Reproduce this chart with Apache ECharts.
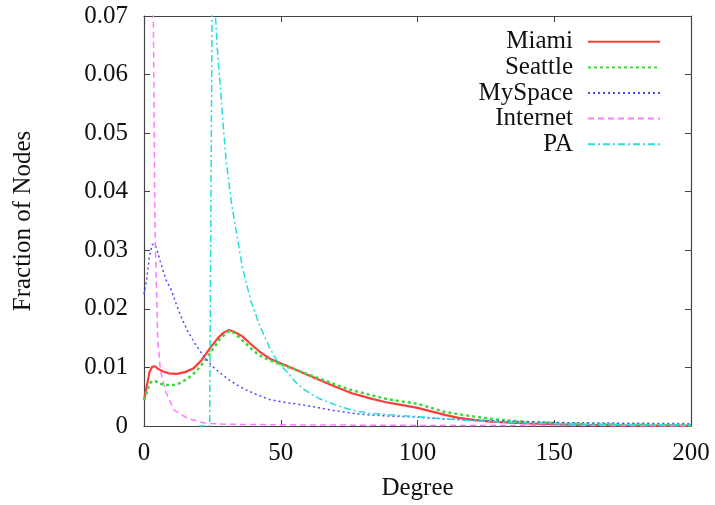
<!DOCTYPE html>
<html>
<head>
<meta charset="utf-8">
<script src="https://cdn.jsdelivr.net/npm/echarts@6/dist/echarts.min.js"></script>
<style>
  html, body { margin: 0; padding: 0; background: #fff; }
  #chart { width: 715px; height: 505px; }
</style>
</head>
<body>
<div id="chart"></div>
<script>
// ---- Data ----
const seriesNames = ['Miami', 'Seattle', 'MySpace', 'Internet', 'PA'];

const xTicks = [0, 50, 100, 150, 200];
const yTicks = [0, 0.01, 0.02, 0.03, 0.04, 0.05, 0.06, 0.07];

const miamiDeg  = [0, 1, 2, 3, 4, 5, 7, 9, 12, 15, 18, 21, 24, 27, 29, 31, 33, 36, 39, 42, 46, 50, 53, 58, 64, 70, 76, 82, 88, 94, 100, 105, 110, 115, 121, 127, 134, 140, 150, 160, 175, 200];
const miamiFrac = [0.0044, 0.0068, 0.0092, 0.0101, 0.0102, 0.0098, 0.0093, 0.0090, 0.0089, 0.0092, 0.0098, 0.0112, 0.0132, 0.0150, 0.0159, 0.0164, 0.0161, 0.0153, 0.0140, 0.0128, 0.0115, 0.0107, 0.0101, 0.0091, 0.0079, 0.0067, 0.0056, 0.0048, 0.0041, 0.0036, 0.0031, 0.0025, 0.0019, 0.0014, 0.0010, 0.00075, 0.00057, 0.00045, 0.0003, 0.0002, 0.00012, 0.00006];

const seattleDeg  = [0, 1, 2, 3, 4, 6, 8, 11, 13, 16, 19, 22, 25, 28, 31, 33, 36, 39, 42, 46, 50, 55, 60, 64, 70, 76, 82, 88, 94, 100, 105, 110, 115, 121, 127, 134, 140, 146, 155, 165, 180, 200];
const seattleFrac = [0.0044, 0.0058, 0.0072, 0.0077, 0.0077, 0.0072, 0.0070, 0.0070, 0.0073, 0.0081, 0.0093, 0.0110, 0.0130, 0.0150, 0.0162, 0.0159, 0.0146, 0.0133, 0.0121, 0.0112, 0.0105, 0.0097, 0.0088, 0.0081, 0.0071, 0.0061, 0.0054, 0.0047, 0.0042, 0.0038, 0.0031, 0.0024, 0.0020, 0.0016, 0.0012, 0.0009, 0.0007, 0.0006, 0.0004, 0.0003, 0.0002, 0.0001];

const myspaceDeg  = [0, 1, 2, 3, 4, 5, 6, 8, 10, 12, 14, 16, 19, 22, 25, 28, 31, 35, 40, 46, 52, 58, 64, 70, 76, 82, 90, 100, 110, 121, 135, 150, 170, 200];
const myspaceFrac = [0.0225, 0.025, 0.029, 0.031, 0.031, 0.0297, 0.028, 0.025, 0.0232, 0.0205, 0.0182, 0.0162, 0.0138, 0.0118, 0.0102, 0.0090, 0.0079, 0.0067, 0.0056, 0.0045, 0.0040, 0.0036, 0.0031, 0.0026, 0.0022, 0.0019, 0.0017, 0.0015, 0.0012, 0.0010, 0.0008, 0.0006, 0.0005, 0.0004];

const internetDeg  = [1, 2, 3, 4, 5, 6, 8, 11, 16, 22, 30, 50, 100, 200];
const internetFrac = [0.25, 0.17, 0.095, 0.034, 0.015, 0.0095, 0.0058, 0.0027, 0.0013, 0.0005, 0.0003, 0.0002, 0.0001, 0.00005];

const paDeg  = [20, 24, 25, 26, 27, 28, 29, 30, 32, 34, 36, 39, 42, 46, 49, 52, 55, 58, 61, 64, 70, 76, 82, 90, 100, 110, 125, 140, 160, 180, 200];
const paFrac = [0, 0, 0.080, 0.071, 0.063, 0.0575, 0.051, 0.0455, 0.038, 0.0325, 0.027, 0.0215, 0.0175, 0.0133, 0.0108, 0.0094, 0.0077, 0.0064, 0.0055, 0.0047, 0.0036, 0.0027, 0.0022, 0.0019, 0.0016, 0.0012, 0.0008, 0.0005, 0.0003, 0.0002, 0.00015];

// ---- Build chart ----
const FONT = 'Liberation Serif';
const pairs = (xs, ys) => xs.map((x, i) => [x, ys[i]]);

const styles = [
  { color: '#ff3c3c', width: 2.2, type: 'solid' },
  { color: '#3ed83e', width: 2.5, type: [3, 3] },
  { color: '#4a4aff', width: 1.5, type: [2, 3] },
  { color: '#ff7aff', width: 1.5, type: [6, 4] },
  { color: '#22dede', width: 1.5, type: [7, 3, 2, 3] }
];
const dataSets = [
  pairs(miamiDeg, miamiFrac),
  pairs(seattleDeg, seattleFrac),
  pairs(myspaceDeg, myspaceFrac),
  pairs(internetDeg, internetFrac),
  pairs(paDeg, paFrac)
];

const xMin = xTicks[0], xMax = xTicks[xTicks.length - 1], xStep = xTicks[1] - xTicks[0];
const yMin = yTicks[0], yMax = yTicks[yTicks.length - 1], yStep = 0.01;

const frameColor = '#444';
const baseAxisX = {
  type: 'value', min: xMin, max: xMax, interval: xStep,
  splitLine: { show: false },
  axisLine: { show: true, onZero: false, lineStyle: { color: frameColor, width: 1.2 } },
  axisTick: { show: true, inside: true, length: 6, lineStyle: { color: frameColor } }
};
const baseAxisY = {
  type: 'value', min: yMin, max: yMax, interval: yStep,
  splitLine: { show: false },
  axisLine: { show: true, onZero: false, lineStyle: { color: frameColor, width: 1.2 } },
  axisTick: { show: true, inside: true, length: 6, lineStyle: { color: frameColor } }
};

const chart = echarts.init(document.getElementById('chart'), null, { renderer: 'canvas' });
chart.setOption({
  backgroundColor: '#ffffff',
  animation: false,
  grid: { left: 144, right: 24, top: 16, bottom: 79, containLabel: false, outerBoundsMode: 'none' },
  legend: {
    data: seriesNames,
    orient: 'vertical',
    align: 'right',
    right: 49,
    top: 24,
    itemWidth: 72,
    itemHeight: 14,
    itemGap: 0,
    itemStyle: { opacity: 0 },
    textStyle: { fontFamily: FONT, fontSize: 25, color: '#111', lineHeight: 25.6, padding: [0, 10, 0, 0] }
  },
  xAxis: [
    Object.assign({}, baseAxisX, {
      position: 'bottom',
      name: 'Degree', nameLocation: 'middle', nameGap: 50,
      nameTextStyle: { fontFamily: FONT, fontSize: 25, color: '#111' },
      axisLabel: { fontFamily: FONT, fontSize: 25, color: '#111', margin: 15 }
    }),
    Object.assign({}, baseAxisX, { position: 'top', axisLabel: { show: false } })
  ],
  yAxis: [
    Object.assign({}, baseAxisY, {
      position: 'left',
      name: 'Fraction of Nodes', nameLocation: 'middle', nameGap: 108,
      nameTextStyle: { fontFamily: FONT, fontSize: 25, color: '#111' },
      axisLabel: {
        fontFamily: FONT, fontSize: 25, color: '#111', margin: 16,
        formatter: v => (v === 0 ? '0' : v.toFixed(2))
      }
    }),
    Object.assign({}, baseAxisY, { position: 'right', axisLabel: { show: false } })
  ],
  series: seriesNames.map((name, i) => ({
    name: name,
    type: 'line',
    xAxisIndex: 0,
    yAxisIndex: 0,
    data: dataSets[i],
    symbol: 'none',
    smooth: false,
    clip: true,
    color: styles[i].color,
    lineStyle: { color: styles[i].color, width: styles[i].width, type: styles[i].type },
    z: 2 + i
  }))
});
</script>
</body>
</html>
